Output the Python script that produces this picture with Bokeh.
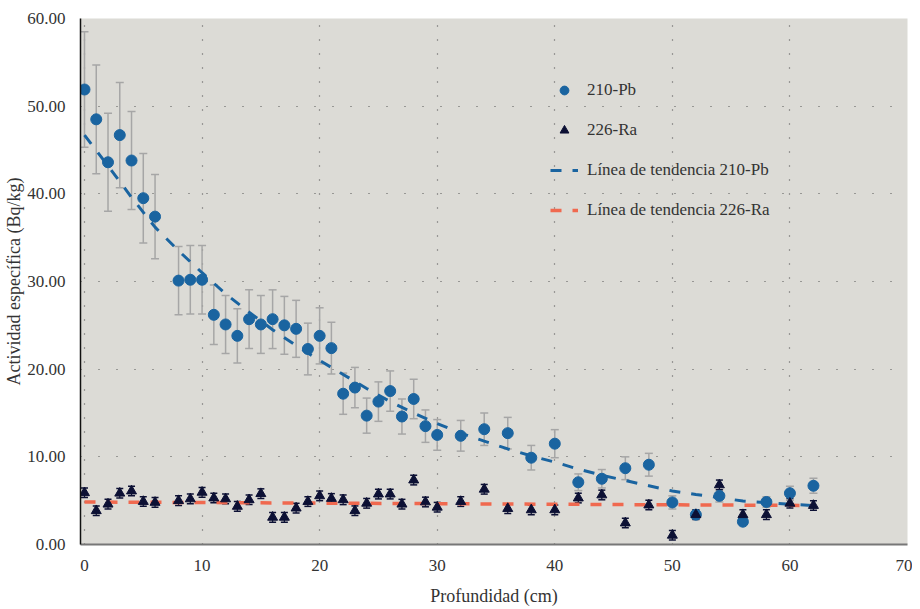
from bokeh.plotting import figure
from bokeh.models import (ColumnDataSource, Whisker, TeeHead, Legend, LegendItem,
                          Range1d, NumeralTickFormatter, FixedTicker)
from bokeh.embed import file_html
from bokeh.resources import INLINE

# ---------------- data ----------------
depth = [0, 1, 2, 3, 4, 5, 6, 8, 9, 10, 11, 12, 13, 14, 15, 16, 17, 18, 19, 20,
         21, 22, 23, 24, 25, 26, 27, 28, 29, 30, 32, 34, 36, 38, 40, 42, 44, 46,
         48, 50, 52, 54, 56, 58, 60, 62]
pb210 = [51.9, 48.5, 43.6, 46.7, 43.8, 39.5, 37.4, 30.1, 30.2, 30.2, 26.2, 25.1,
         23.8, 25.7, 25.1, 25.7, 25.0, 24.6, 22.3, 23.8, 22.4, 17.2, 17.9, 14.7,
         16.3, 17.5, 14.6, 16.6, 13.5, 12.5, 12.4, 13.15, 12.7, 9.9, 11.5, 7.1,
         7.5, 8.7, 9.1, 4.8, 3.4, 5.55, 2.6, 4.85, 5.85, 6.7]
pb210_err = [6.6, 6.2, 5.6, 6.0, 5.6, 5.1, 4.8, 3.9, 3.9, 3.9, 3.4, 3.3, 3.1, 3.35,
             3.3, 3.35, 3.3, 3.25, 2.95, 3.2, 2.95, 2.35, 2.3, 2.0, 2.25, 2.3, 2.0,
             2.25, 1.85, 1.75, 1.75, 1.85, 1.8, 1.4, 1.6, 0.95, 1.05, 1.3, 1.3,
             0.75, 0.5, 0.7, 0.4, 0.6, 0.8, 0.85]
ra226 = [5.9, 3.85, 4.6, 5.85, 6.1, 4.9, 4.8, 5.0, 5.2, 5.95, 5.3, 5.2, 4.35, 5.1,
         5.8, 3.1, 3.1, 4.15, 4.9, 5.55, 5.25, 5.1, 3.85, 4.7, 5.75, 5.75, 4.6,
         7.35, 4.85, 4.25, 4.9, 6.3, 4.1, 3.95, 3.95, 5.3, 5.65, 2.45, 4.5, 1.05,
         3.4, 6.8, 3.4, 3.4, 4.7, 4.45]
ra226_err = [0.55] * 46

trend_pb_x = [0, 2, 4, 6, 8, 10, 12, 14, 16, 18, 20, 22, 24, 26, 28, 30, 32, 34,
              36, 38, 40, 42, 44, 46, 48, 50, 52, 54, 56, 58, 60, 62]
trend_pb_y = [46.7, 43.2, 39.6, 36.2, 33.5, 31.0, 28.6, 26.5, 24.5, 22.7, 21.0,
              19.4, 17.8, 16.3, 15.0, 13.8, 12.7, 11.8, 10.9, 10.1, 9.4, 8.6, 7.9,
              7.3, 6.7, 6.1, 5.7, 5.35, 4.95, 4.77, 4.58, 4.45]
trend_ra_x = [0, 62]
trend_ra_y = [4.85, 4.45]

x_ticks = [0, 10, 20, 30, 40, 50, 60, 70]
y_ticks = [0, 10, 20, 30, 40, 50, 60]

# ---------------- styles ----------------
FONT = "Liberation Serif"
BLUE = "#1a64a0"
NAVY = "#0c1034"
CORAL = "#f0694f"
BG = "#dcdbd6"
ERR = "#a6a6a6"
TXT = "#333333"

src = ColumnDataSource(dict(
    x=depth, pb=pb210, ra=ra226,
    pb_up=[v + e for v, e in zip(pb210, pb210_err)],
    pb_lo=[v - e for v, e in zip(pb210, pb210_err)],
    ra_up=[v + e for v, e in zip(ra226, ra226_err)],
    ra_lo=[v - e for v, e in zip(ra226, ra226_err)],
))

p = figure(width=912, height=608, output_backend="svg", toolbar_location=None,
           x_range=Range1d(-0.34, 70), y_range=Range1d(0, 60),
           min_border_left=80, min_border_top=18, min_border_right=5,
           min_border_bottom=61)
p.background_fill_color = BG
p.border_fill_color = "white"
p.outline_line_color = None

# trend lines
r_tpb = p.line(trend_pb_x, trend_pb_y, line_color=BLUE, line_width=3, line_dash="11 11")
r_tra = p.line(trend_ra_x, trend_ra_y, line_color=CORAL, line_width=3.5, line_dash="11 11")

# error bars
w_pb = Whisker(source=src, base="x", upper="pb_up", lower="pb_lo",
               line_color=ERR, line_width=1.5,
               upper_head=TeeHead(size=8, line_color=ERR, line_width=1.5),
               lower_head=TeeHead(size=8, line_color=ERR, line_width=1.5))
p.add_layout(w_pb)

r_pb = p.scatter("x", "pb", source=src, marker="circle", size=11,
                 fill_color=BLUE, line_color=BLUE)

w_ra = Whisker(source=src, base="x", upper="ra_up", lower="ra_lo",
               line_color=NAVY, line_width=1.2,
               upper_head=TeeHead(size=7, line_color=NAVY, line_width=1.5),
               lower_head=TeeHead(size=7, line_color=NAVY, line_width=1.5))
p.add_layout(w_ra)

r_ra = p.scatter("x", "ra", source=src, marker="triangle", size=10,
                 fill_color=NAVY, line_color=NAVY)

# axes
p.xaxis.ticker = FixedTicker(ticks=x_ticks)
p.yaxis.ticker = FixedTicker(ticks=y_ticks)
p.yaxis.formatter = NumeralTickFormatter(format="0.00")
p.xaxis.axis_label = "Profundidad (cm)"
p.yaxis.axis_label = "Actividad específica (Bq/kg)"
for ax in (p.xaxis, p.yaxis):
    ax.major_label_text_font = FONT
    ax.major_label_text_font_size = "17px"
    ax.major_label_text_color = TXT
    ax.axis_label_text_font = FONT
    ax.axis_label_text_font_size = "18px"
    ax.axis_label_text_font_style = "normal"
    ax.axis_label_text_color = TXT
    ax.major_tick_line_color = None
    ax.minor_tick_line_color = None
    ax.major_label_standoff = 9
p.yaxis.axis_line_color = "#111111"
p.yaxis.axis_line_width = 1.5
p.yaxis.axis_label_standoff = 0
p.xaxis.axis_line_color = "#777777"
p.xaxis.axis_line_width = 2
p.xaxis.axis_label_standoff = 12

# grid
p.xgrid.grid_line_color = "#555555"
p.xgrid.grid_line_dash = "1 13"
p.xgrid.grid_line_width = 1.2
p.ygrid.grid_line_color = "#555555"
p.ygrid.grid_line_dash = "1 17"
p.ygrid.grid_line_width = 1.2

# legend
legend = Legend(items=[
    LegendItem(label="210-Pb", renderers=[r_pb]),
    LegendItem(label="226-Ra", renderers=[r_ra]),
    LegendItem(label="Línea de tendencia 210-Pb", renderers=[r_tpb]),
    LegendItem(label="Línea de tendencia 226-Ra", renderers=[r_tra]),
], location=(470, 323))
legend.border_line_color = None
legend.background_fill_alpha = 0
legend.label_text_font = FONT
legend.label_text_font_size = "17px"
legend.label_text_color = TXT
legend.glyph_width = 28
legend.glyph_height = 22
legend.label_height = 22
legend.spacing = 18
legend.padding = 0
legend.margin = 0
legend.label_standoff = 9
p.add_layout(legend)

open("out.html", "w").write(file_html(p, INLINE))
